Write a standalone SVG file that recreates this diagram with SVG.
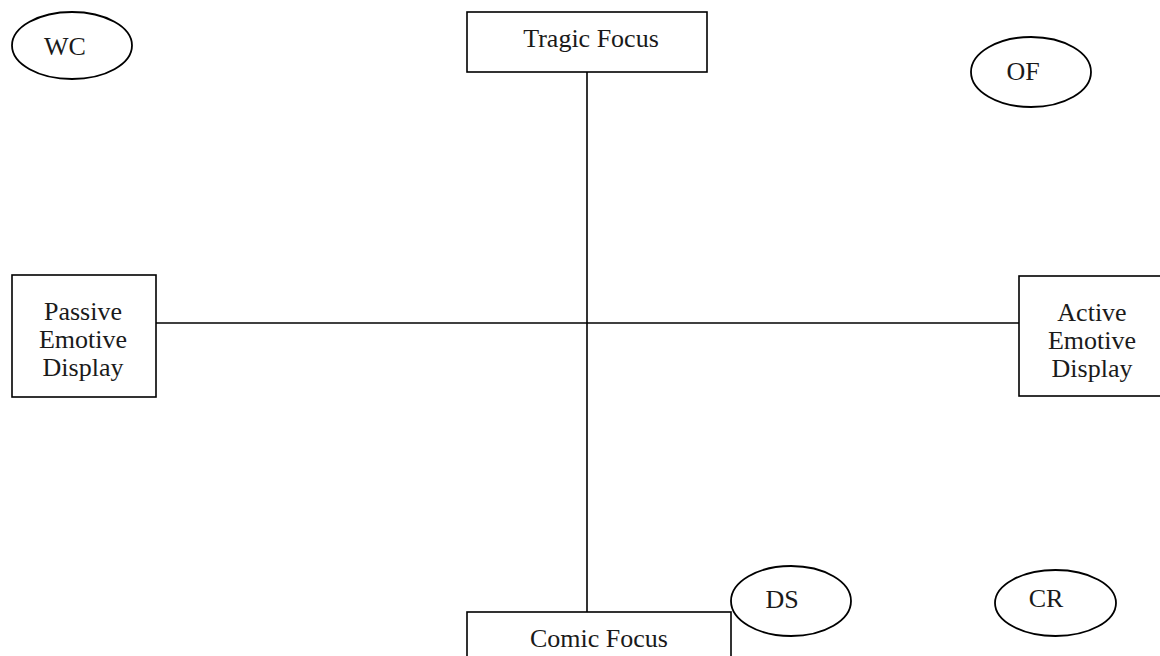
<svg xmlns="http://www.w3.org/2000/svg" width="1160" height="656" viewBox="0 0 1160 656">
  <style>
    .box { fill: #ffffff; stroke: #000000; stroke-width: 1.6; }
    .oval { fill: #ffffff; stroke: #000000; stroke-width: 1.8; }
    .axis { stroke: #000000; stroke-width: 1.6; fill: none; }
    .lbl { font-family: "Liberation Serif", "Times New Roman", serif; font-size: 26px; fill: #1a1a1a; text-anchor: middle; }
  </style>
  <rect x="0" y="0" width="1160" height="656" fill="#ffffff"/>

  <!-- axes -->
  <g id="connectors">
    <line class="axis" x1="587" y1="72" x2="587" y2="612"/>
    <line class="axis" x1="156" y1="323" x2="1019" y2="323"/>
  </g>

  <!-- axis end boxes -->
  <g id="tragic-focus">
    <rect class="box" x="467" y="12" width="240" height="60"/>
    <text class="lbl" x="591" y="47">Tragic Focus</text>
  </g>
  <g id="comic-focus">
    <rect class="box" x="467" y="612" width="264" height="60"/>
    <text class="lbl" x="599" y="647">Comic Focus</text>
  </g>
  <g id="passive-emotive-display">
    <rect class="box" x="12" y="275" width="144" height="122"/>
    <text class="lbl" x="83" y="320">Passive</text>
    <text class="lbl" x="83" y="348">Emotive</text>
    <text class="lbl" x="83" y="376">Display</text>
  </g>
  <g id="active-emotive-display">
    <rect class="box" x="1019" y="276" width="146" height="120"/>
    <text class="lbl" x="1092" y="321">Active</text>
    <text class="lbl" x="1092" y="349">Emotive</text>
    <text class="lbl" x="1092" y="377">Display</text>
  </g>

  <!-- quadrant markers -->
  <g id="wc">
    <ellipse class="oval" cx="72" cy="45.5" rx="60" ry="33.5"/>
    <text class="lbl" x="65" y="55">WC</text>
  </g>
  <g id="of">
    <ellipse class="oval" cx="1031" cy="72" rx="60" ry="35"/>
    <text class="lbl" x="1023" y="80">OF</text>
  </g>
  <g id="ds">
    <ellipse class="oval" cx="791" cy="601" rx="60" ry="35"/>
    <text class="lbl" x="782" y="608">DS</text>
  </g>
  <g id="cr">
    <ellipse class="oval" cx="1055.5" cy="603" rx="60.5" ry="33"/>
    <text class="lbl" x="1046" y="607">CR</text>
  </g>
</svg>
